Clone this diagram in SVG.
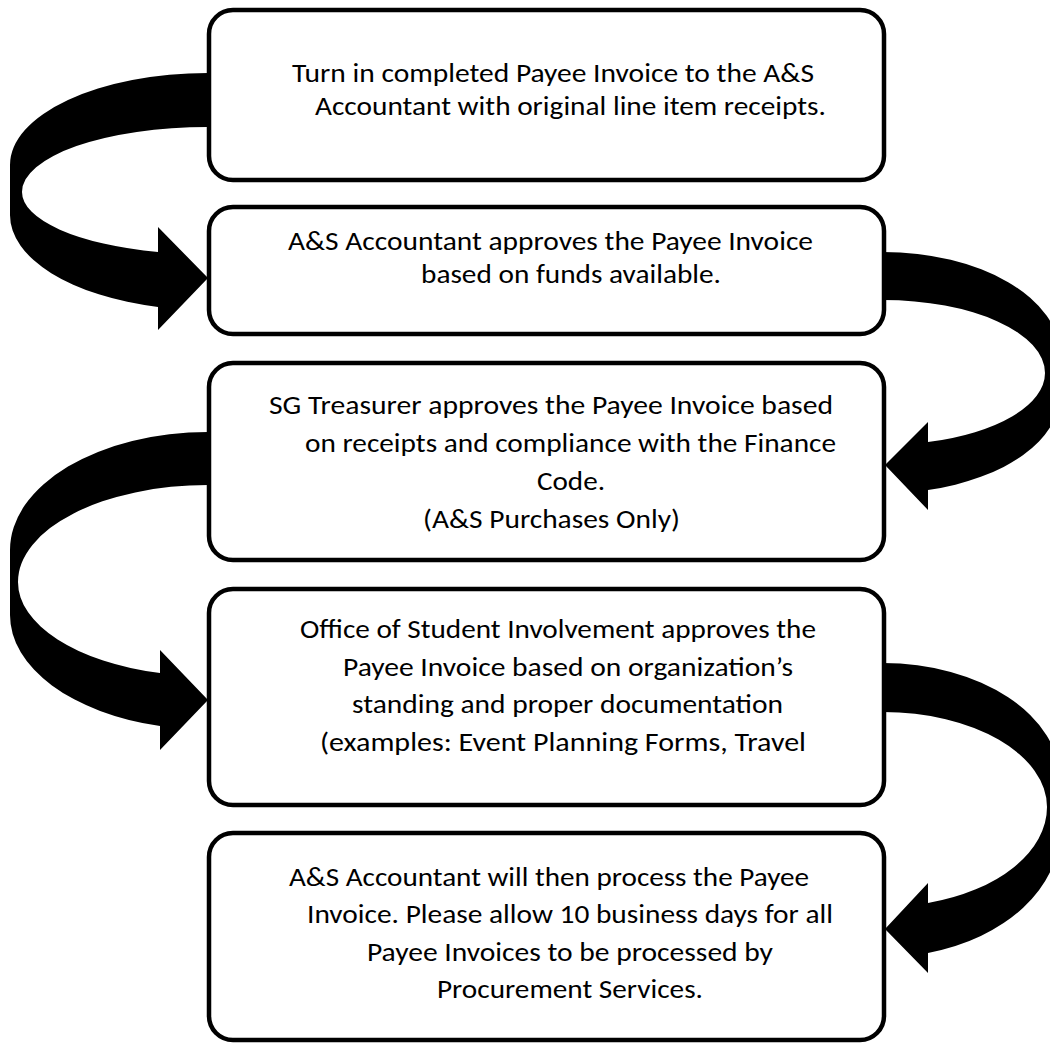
<svg xmlns="http://www.w3.org/2000/svg" width="1050" height="1046" viewBox="0 0 1050 1046">
  <style>
    .box { fill: #ffffff; stroke: #000000; stroke-width: 4.5; }
    .arrow { fill: #000000; stroke: none; }
    .t { font-family: Carlito, Calibri, Lato, "Open Sans", sans-serif; font-size: 26px; fill: #000000; }
  </style>
  <defs>
    <clipPath id="clip3"><rect x="200" y="360" width="700" height="175"/></clipPath>
  </defs>
  <rect x="0" y="0" width="1050" height="1046" fill="#ffffff"/>
  <g id="connectors">
    <path class="arrow" d="M208,73 A198,92 0 0 0 10,165 L10,215 A198,95 0 0 0 158,307 L158,330 L208,278 L158,227 L158,252 A186,62.3 0 0 1 22,192 A186,65 0 0 1 208,127 Z"/>
    <path class="arrow" d="M883,252 A177,103 0 0 1 1060,355 L1060,395 A177,98.2 0 0 1 928,490 L928,510 L885,465 L928,422 L928,442 A162,71.8 0 0 0 1045,373 A162,73 0 0 0 883,300 Z"/>
    <path class="arrow" d="M208,432 A198,118 0 0 0 10,550 L10,615 A198,114.4 0 0 0 160,726 L160,750 L208,700 L160,650 L160,673 A190,94 0 0 1 18,582 A190,97 0 0 1 208,485 Z"/>
    <path class="arrow" d="M883,663 A177,117 0 0 1 1060,780 L1060,830 A177,127.2 0 0 1 928,953 L928,973 L885,929 L928,883 L928,903 A164,99.8 0 0 0 1047,807 A164,95 0 0 0 883,712 Z"/>
  </g>
  <g id="node1">
    <rect class="box" x="209" y="10" width="675" height="170" rx="24"/>
    <text class="t" x="292" y="82" textLength="522" lengthAdjust="spacingAndGlyphs">Turn in completed Payee Invoice to the A&amp;S</text>
    <text class="t" x="315" y="115" textLength="511" lengthAdjust="spacingAndGlyphs">Accountant with original line item receipts.</text>
  </g>
  <g id="node2">
    <rect class="box" x="209" y="207" width="675" height="127" rx="24"/>
    <text class="t" x="288" y="250" textLength="525" lengthAdjust="spacingAndGlyphs">A&amp;S Accountant approves the Payee Invoice</text>
    <text class="t" x="421" y="283" textLength="300" lengthAdjust="spacingAndGlyphs">based on funds available.</text>
  </g>
  <g id="node3">
    <rect class="box" x="209" y="363" width="675" height="197" rx="24"/>
    <g clip-path="url(#clip3)">
      <text class="t" x="269" y="414" textLength="564" lengthAdjust="spacingAndGlyphs">SG Treasurer approves the Payee Invoice based</text>
      <text class="t" x="305" y="452" textLength="531" lengthAdjust="spacingAndGlyphs">on receipts and compliance with the Finance</text>
      <text class="t" x="537" y="490" textLength="68" lengthAdjust="spacingAndGlyphs">Code.</text>
      <text class="t" x="423" y="528" textLength="257" lengthAdjust="spacingAndGlyphs">(A&amp;S Purchases Only)</text>
    </g>
  </g>
  <g id="node4">
    <rect class="box" x="209" y="589" width="675" height="216" rx="24"/>
    <text class="t" x="300" y="638" textLength="516" lengthAdjust="spacingAndGlyphs">Office of Student Involvement approves the</text>
    <text class="t" x="343" y="676" textLength="450" lengthAdjust="spacingAndGlyphs">Payee Invoice based on organization’s</text>
    <text class="t" x="352" y="713" textLength="431" lengthAdjust="spacingAndGlyphs">standing and proper documentation</text>
    <text class="t" x="320" y="751" textLength="486" lengthAdjust="spacingAndGlyphs">(examples: Event Planning Forms, Travel</text>
  </g>
  <g id="node5">
    <rect class="box" x="209" y="833" width="675" height="207" rx="24"/>
    <text class="t" x="289" y="886" textLength="520" lengthAdjust="spacingAndGlyphs">A&amp;S Accountant will then process the Payee</text>
    <text class="t" x="307" y="923" textLength="526" lengthAdjust="spacingAndGlyphs">Invoice. Please allow 10 business days for all</text>
    <text class="t" x="367" y="961" textLength="406" lengthAdjust="spacingAndGlyphs">Payee Invoices to be processed by</text>
    <text class="t" x="437" y="998" textLength="266" lengthAdjust="spacingAndGlyphs">Procurement Services.</text>
  </g>
</svg>
